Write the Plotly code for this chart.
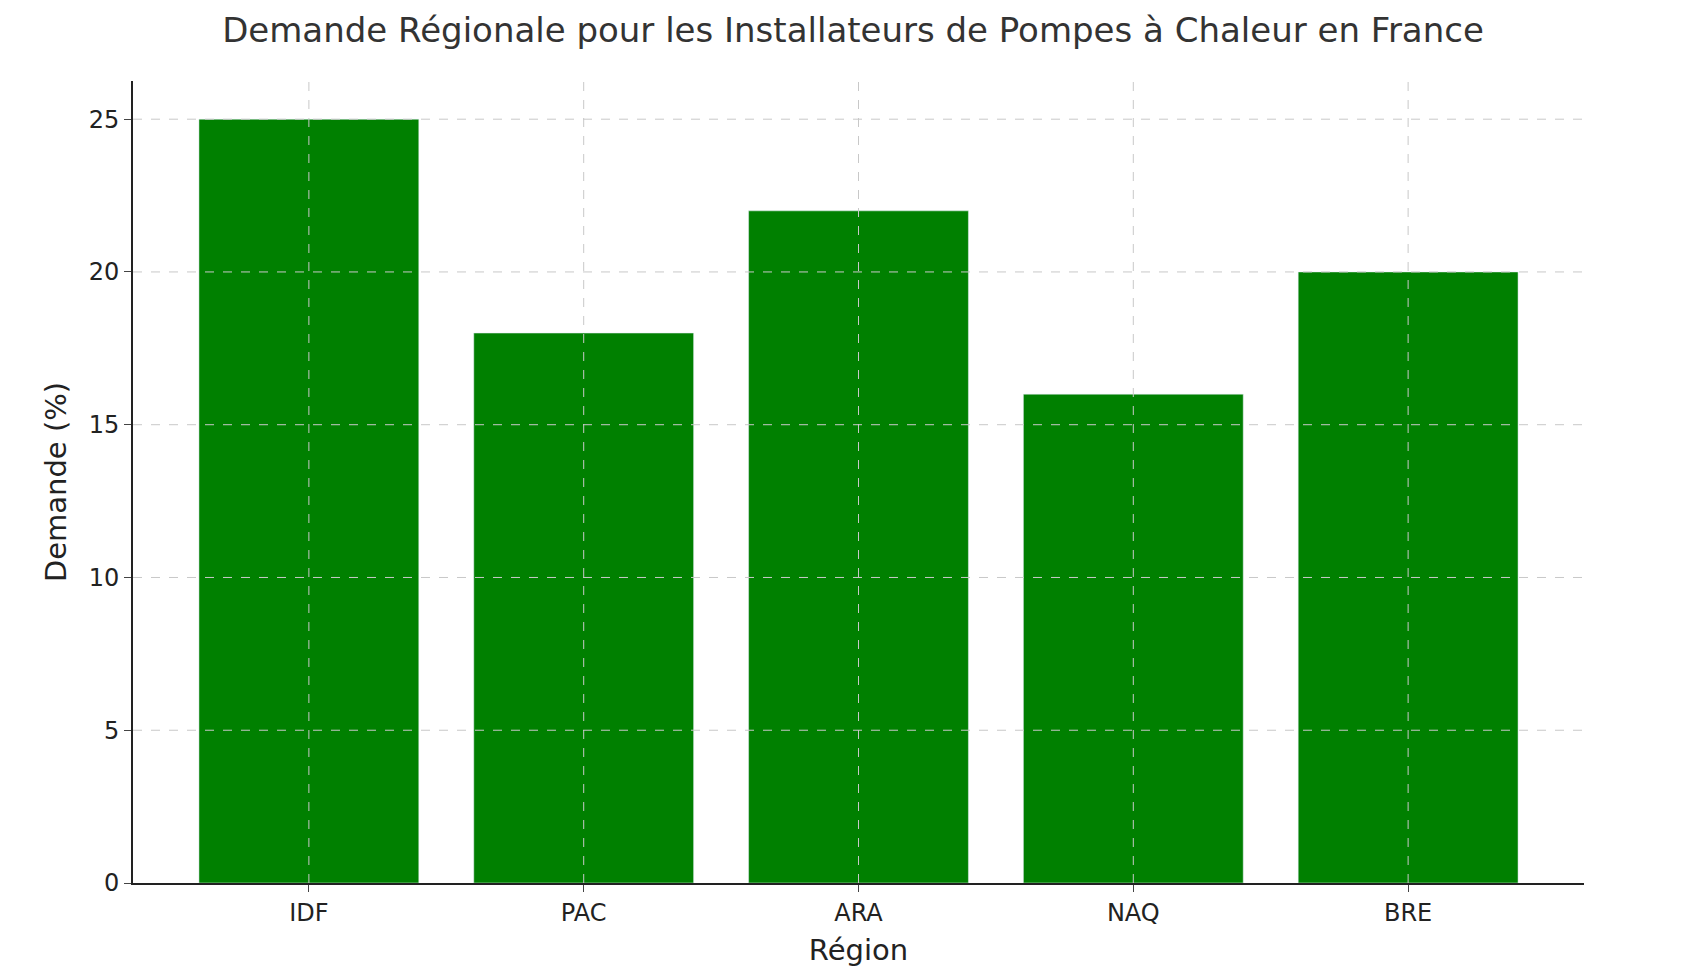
import plotly.graph_objects as go

regions = ["IDF", "PAC", "ARA", "NAQ", "BRE"]
demande = [25, 18, 22, 16, 20]
yticks = [0, 5, 10, 15, 20, 25]

fig = go.Figure(go.Bar(x=list(range(len(regions))), y=demande, marker_color="#008000", width=0.8))
fig.update_layout(
    width=1690, height=979, plot_bgcolor="white", paper_bgcolor="white",
    margin=dict(l=125, r=114, t=73, b=104),
    font=dict(family="DejaVu Sans", size=24, color="#222"),
    title=dict(text="Demande Régionale pour les Installateurs de Pompes à Chaleur en France",
               x=0.5, xanchor="center", y=0.99, yanchor="top", font=dict(size=34, color="#333")),
    showlegend=False,
)
gl = dict(color="#c8c8c8", width=1, dash="dash")
for i in range(len(regions)):
    fig.add_vline(x=i, line=gl, layer="above")
for v in yticks[1:]:
    fig.add_hline(y=v, line=gl, layer="above")
fig.update_xaxes(tickvals=list(range(len(regions))), ticktext=regions, range=[-0.64, 4.64],
                 showline=True, linecolor="#222", linewidth=2, ticks="outside", ticklen=7,
                 showgrid=False, title=dict(text="Région", standoff=14), zeroline=False)
fig.update_yaxes(range=[0, 26.25], tickvals=yticks,
                 showline=True, linecolor="#222", linewidth=2, ticks="outside", ticklen=7,
                 showgrid=False, title=dict(text="Demande (%)", standoff=14), zeroline=False)
fig.write_html("out.html")
